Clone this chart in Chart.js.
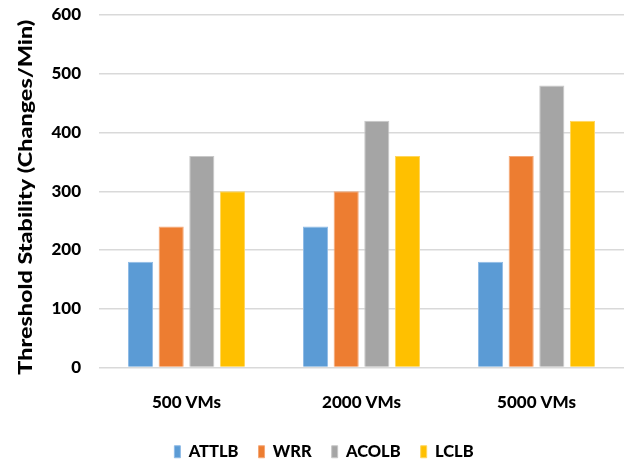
<!DOCTYPE html>
<html>
<head>
<meta charset="utf-8">
<script src="https://cdn.jsdelivr.net/npm/chart.js@4/dist/chart.umd.min.js"></script>
<style>
  html, body { margin: 0; padding: 0; background: #fff; }
  #wrap { width: 626px; height: 466px; position: relative; }
</style>
</head>
<body>
<div id="wrap"><canvas id="c"></canvas></div>
<script>
const categories = ['500 VMs', '2000 VMs', '5000 VMs'];
const attlb = [180, 240, 180];
const wrr   = [240, 300, 360];
const acolb = [360, 420, 480];
const lclb  = [300, 360, 420];
const yTicks = [0, 100, 200, 300, 400, 500, 600];
const yTitle = 'Threshold Stability (Changes/Min)';

const family = 'Lato, Roboto, sans-serif';
const tickFont = { family, weight: '900', size: 17 };
const legendFont = { family, weight: '900', size: 16.5 };

function series(label, data, fill, edge) {
  return {
    label, data,
    backgroundColor: fill,
    borderColor: edge,
    borderWidth: 1,
    categoryPercentage: 0.7,
    barPercentage: 0.82
  };
}

// Vertical axis title, drawn tall and narrow along the left edge
const axisTitle = {
  id: 'axisTitle',
  afterDraw(chart) {
    const { ctx, chartArea } = chart;
    ctx.save();
    ctx.font = '900 19px ' + family;
    ctx.fillStyle = '#000';
    ctx.textAlign = 'center';
    ctx.textBaseline = 'middle';
    const w = ctx.measureText(yTitle).width;
    const span = 355;
    ctx.translate(26, (chartArea.top + chartArea.bottom) / 2 + 6);
    ctx.rotate(-Math.PI / 2);
    ctx.scale(span / w, 1);
    ctx.fillText(yTitle, 0, 0);
    ctx.restore();
  }
};

new Chart(document.getElementById('c'), {
  type: 'bar',
  data: {
    labels: categories,
    datasets: [
      series('ATTLB', attlb, '#5B9BD5', '#8fbbe6'),
      series('WRR',   wrr,   '#ED7D31', '#f5a877'),
      series('ACOLB', acolb, '#A5A5A5', '#c8c8c8'),
      series('LCLB',  lclb,  '#FFC000', '#ffd65c')
    ]
  },
  plugins: [axisTitle],
  options: {
    responsive: true,
    maintainAspectRatio: false,
    animation: false,
    layout: { padding: { top: 15, right: 2, left: 24, bottom: -4 } },
    plugins: {
      tooltip: { enabled: false },
      legend: {
        position: 'bottom',
        labels: {
          color: '#000',
          font: legendFont,
          boxWidth: 6,
          boxHeight: 12,
          padding: 20
        }
      }
    },
    scales: {
      x: {
        grid: { display: false },
        border: { display: false },
        ticks: { color: '#000', font: tickFont, padding: 17 },
        afterFit(scale) { scale.height = 56; }
      },
      y: {
        min: 0, max: 600,
        afterBuildTicks(scale) { scale.ticks = yTicks.map(v => ({ value: v })); },
        grid: { color: '#d9d9d9', lineWidth: 1.5, drawTicks: false },
        border: { display: false },
        ticks: { color: '#000', font: tickFont, padding: 18 },
        title: { display: false },
        afterFit(scale) {
          scale.width = 75;
          scale.paddingTop = 0;
          scale.paddingBottom = 0;
        }
      }
    }
  }
});
</script>
</body>
</html>
